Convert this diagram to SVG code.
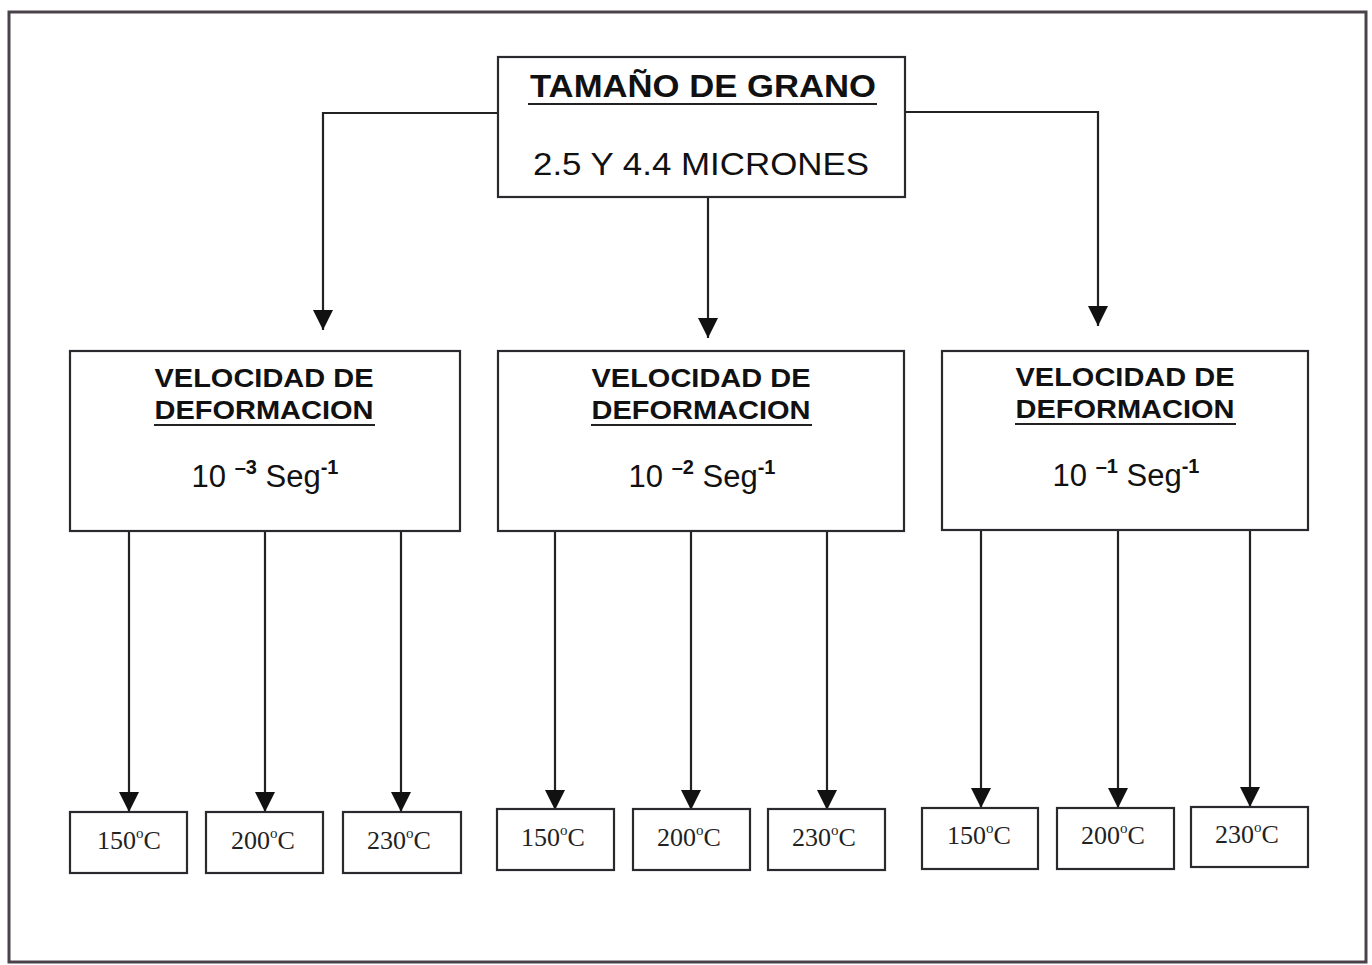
<svg xmlns="http://www.w3.org/2000/svg" width="1372" height="965" viewBox="0 0 1372 965">
<defs>
<style>
.box{fill:#fff;stroke:#2a2a2e;stroke-width:2.2}
.frame{fill:#fff;stroke:#4a424a;stroke-width:3}
.ln{fill:none;stroke:#222;stroke-width:2.2}
.hd{font-family:"Liberation Sans",Arial,sans-serif;font-weight:bold;fill:#111;text-anchor:middle}
.rg{font-family:"Liberation Sans",Arial,sans-serif;fill:#111;text-anchor:middle}
.tm{font-family:"Liberation Serif","Times New Roman",serif;fill:#222;font-size:26px;text-anchor:middle}
.ul{stroke:#222;stroke-width:2.2}
</style>
<marker id="ad" viewBox="0 0 20 20" refX="20" refY="10" markerWidth="20" markerHeight="20" markerUnits="userSpaceOnUse" orient="auto">
<path d="M0,0 L20,10 L0,20 Z" fill="#111"/>
</marker>
</defs>
<rect x="0" y="0" width="1372" height="965" fill="#fff"/>
<rect class="frame" x="9" y="12" width="1357" height="950"/>

<g id="connectors">
<path class="ln" d="M498,113 H323 V330" marker-end="url(#ad)"/>
<path class="ln" d="M708,197 V338" marker-end="url(#ad)"/>
<path class="ln" d="M905,112 H1098 V326" marker-end="url(#ad)"/>
<path class="ln" d="M129,531 V812" marker-end="url(#ad)"/>
<path class="ln" d="M265,531 V812" marker-end="url(#ad)"/>
<path class="ln" d="M401,531 V812" marker-end="url(#ad)"/>
<path class="ln" d="M555,531 V810" marker-end="url(#ad)"/>
<path class="ln" d="M691,531 V810" marker-end="url(#ad)"/>
<path class="ln" d="M827,531 V810" marker-end="url(#ad)"/>
<path class="ln" d="M981,530 V808" marker-end="url(#ad)"/>
<path class="ln" d="M1118,530 V808" marker-end="url(#ad)"/>
<path class="ln" d="M1250,530 V807" marker-end="url(#ad)"/>
</g>

<g id="tamano">
<rect class="box" x="498" y="57" width="407" height="140"/>
<text class="hd" x="703" y="97" font-size="32" textLength="346" lengthAdjust="spacingAndGlyphs">TAMAÑO DE GRANO</text>
<line class="ul" x1="528" y1="104" x2="877" y2="104"/>
<text class="rg" x="701" y="175" font-size="32" textLength="336" lengthAdjust="spacingAndGlyphs">2.5 Y 4.4 MICRONES</text>
</g>

<g id="vel1">
<rect class="box" x="70" y="351" width="390" height="180"/>
<text class="hd" x="264" y="387" font-size="26" textLength="219" lengthAdjust="spacingAndGlyphs">VELOCIDAD DE</text>
<text class="hd" x="264" y="419" font-size="26" textLength="219" lengthAdjust="spacingAndGlyphs">DEFORMACION</text>
<line class="ul" x1="154" y1="425" x2="375" y2="425"/>
<text class="rg" x="265" y="487" font-size="31">10 <tspan font-size="20" font-weight="bold" dy="-13">–3</tspan><tspan dy="13"> Seg</tspan><tspan font-size="20" font-weight="bold" dy="-13">-1</tspan></text>
</g>

<g id="vel2">
<rect class="box" x="498" y="351" width="406" height="180"/>
<text class="hd" x="701" y="387" font-size="26" textLength="219" lengthAdjust="spacingAndGlyphs">VELOCIDAD DE</text>
<text class="hd" x="701" y="419" font-size="26" textLength="219" lengthAdjust="spacingAndGlyphs">DEFORMACION</text>
<line class="ul" x1="591" y1="425" x2="812" y2="425"/>
<text class="rg" x="702" y="487" font-size="31">10 <tspan font-size="20" font-weight="bold" dy="-13">–2</tspan><tspan dy="13"> Seg</tspan><tspan font-size="20" font-weight="bold" dy="-13">-1</tspan></text>
</g>

<g id="vel3">
<rect class="box" x="942" y="351" width="366" height="179"/>
<text class="hd" x="1125" y="386" font-size="26" textLength="219" lengthAdjust="spacingAndGlyphs">VELOCIDAD DE</text>
<text class="hd" x="1125" y="418" font-size="26" textLength="219" lengthAdjust="spacingAndGlyphs">DEFORMACION</text>
<line class="ul" x1="1015" y1="424" x2="1236" y2="424"/>
<text class="rg" x="1126" y="486" font-size="31">10 <tspan font-size="20" font-weight="bold" dy="-13">–1</tspan><tspan dy="13"> Seg</tspan><tspan font-size="20" font-weight="bold" dy="-13">-1</tspan></text>
</g>

<g id="t1a"><rect class="box" x="70" y="812" width="117" height="61"/><text class="tm" x="129" y="849">150<tspan font-size="15" dy="-11">o</tspan><tspan dy="11">C</tspan></text></g>
<g id="t1b"><rect class="box" x="206" y="812" width="117" height="61"/><text class="tm" x="263" y="849">200<tspan font-size="15" dy="-11">o</tspan><tspan dy="11">C</tspan></text></g>
<g id="t1c"><rect class="box" x="343" y="812" width="118" height="61"/><text class="tm" x="399" y="849">230<tspan font-size="15" dy="-11">o</tspan><tspan dy="11">C</tspan></text></g>

<g id="t2a"><rect class="box" x="497" y="809" width="117" height="61"/><text class="tm" x="553" y="846">150<tspan font-size="15" dy="-11">o</tspan><tspan dy="11">C</tspan></text></g>
<g id="t2b"><rect class="box" x="633" y="809" width="117" height="61"/><text class="tm" x="689" y="846">200<tspan font-size="15" dy="-11">o</tspan><tspan dy="11">C</tspan></text></g>
<g id="t2c"><rect class="box" x="768" y="809" width="117" height="61"/><text class="tm" x="824" y="846">230<tspan font-size="15" dy="-11">o</tspan><tspan dy="11">C</tspan></text></g>

<g id="t3a"><rect class="box" x="922" y="808" width="116" height="61"/><text class="tm" x="979" y="844">150<tspan font-size="15" dy="-11">o</tspan><tspan dy="11">C</tspan></text></g>
<g id="t3b"><rect class="box" x="1057" y="808" width="117" height="61"/><text class="tm" x="1113" y="844">200<tspan font-size="15" dy="-11">o</tspan><tspan dy="11">C</tspan></text></g>
<g id="t3c"><rect class="box" x="1191" y="807" width="117" height="60"/><text class="tm" x="1247" y="843">230<tspan font-size="15" dy="-11">o</tspan><tspan dy="11">C</tspan></text></g>
</svg>
